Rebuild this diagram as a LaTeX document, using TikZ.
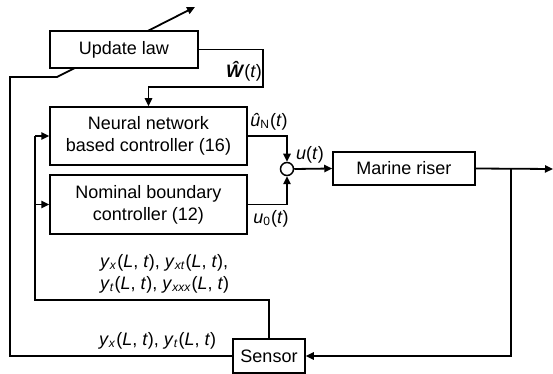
\documentclass[tikz,border=0pt]{standalone}
\usepackage{fontspec}
\setmainfont{Liberation Sans}
\usetikzlibrary{arrows.meta,backgrounds}
\newcommand\ysig[1]{\textit{y}\textsubscript{\textit{#1}}(\textit{L}, \textit{t})}
\tikzset{
  link/.style={line width=0.9pt},
  block/.style={draw, fill=white, line width=0.75pt, inner sep=0pt, align=center}}
\begin{document}
\begin{tikzpicture}[x=0.5pt,y=-0.5pt,
  font=\fontsize{9}{11}\selectfont,
  >={Triangle[length=4pt,width=3.6pt]}]
\useasboundingbox (0,0) rectangle (553,374);

\node[block, minimum width=74pt, minimum height=18.5pt] (upd) at (124,49.5) {Update law};
\node[block, minimum width=98.5pt, minimum height=29pt] (nn) at (148.5,136) {Neural network\\based controller (16)};
\node[block, minimum width=98.5pt, minimum height=29.5pt] (nom) at (148.5,204.5) {Nominal boundary\\controller (12)};
\node[draw, circle, fill=white, line width=0.75pt, minimum size=6.5pt, inner sep=0pt] (sum) at (287,169) {};
\node[block, minimum width=71pt, minimum height=16.5pt] (riser) at (404,168.5) {Marine riser};
\node[block, minimum width=36pt, minimum height=17pt] (sensor) at (269,356) {Sensor};

\coordinate (wturn) at (263,87);
\coordinate (branch) at (511,169);
\coordinate (outend) at (553,169);
\coordinate (fb) at (35,300);
\coordinate (lawin) at (10,77);
\coordinate (lawtip) at (195,7);

% weights to the controller
\draw[link,->] (upd.east) -| (wturn) -| (nn.north);
\node at (244,71) {\textbf{\textit{\^W}}(\textit{t})};

% controller outputs
\draw[link,->] (nn.east) -| (sum.north);
\draw[link,->] (nom.east) -| (sum.south);
\node at (269,122) {\textit{\^u}\textsubscript{N}(\textit{t})};
\node at (271,219) {\textit{u}\textsubscript{0}(\textit{t})};

\draw[link,->] (sum.east) -- (riser.west);
\node at (310,155) {\textit{u}(\textit{t})};
\draw[link,->] (riser.east) -- (outend);
\draw[link,->] (branch) |- (sensor.east);

% measured signals back to the controllers
\draw[link] (sensor.north) |- (fb) -- (fb |- nn.west);
\draw[link,->] (fb |- nn.west) -- (nn.west);
\draw[link,->] (fb |- nom.west) -- (nom.west);
\node[anchor=west, align=left] at (93,274) {\ysig{x}, \ysig{xt},\\\ysig{t}, \ysig{xxx}};

\begin{scope}[on background layer]
\draw[link,draw=black,->] (sensor.west) -| (lawin) -- (57,77) -- (lawtip);
\end{scope}
\node[anchor=west] at (92,341) {\ysig{x}, \ysig{t}};
\end{tikzpicture}
\end{document}
